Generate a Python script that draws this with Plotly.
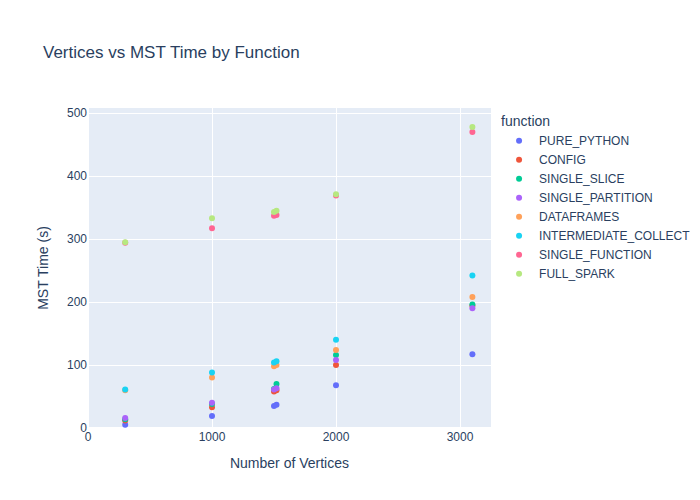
import pandas as pd
import plotly.express as px

functions = ["PURE_PYTHON", "CONFIG", "SINGLE_SLICE", "SINGLE_PARTITION",
             "DATAFRAMES", "INTERMEDIATE_COLLECT", "SINGLE_FUNCTION", "FULL_SPARK"]

vertices = [300, 1000, 1500, 1520, 2000, 3100]

pure_python = [5, 19, 35, 37, 68, 117]
config = [12, 33, 58, 60, 100, 194]
single_slice = [14, 38, 62, 70, 116, 196]
single_partition = [16, 40, 61, 63, 108, 190]
dataframes = [60, 80, 98, 100, 124, 208]
intermediate_collect = [61, 88, 104, 106, 140, 242]
single_function = [294, 317, 337, 338, 369, 470]
full_spark = [295, 333, 343, 345, 371, 478]

series = [pure_python, config, single_slice, single_partition,
          dataframes, intermediate_collect, single_function, full_spark]

rows = []
for name, vals in zip(functions, series):
    for v, t in zip(vertices, vals):
        rows.append({"vertices": v, "mst_time": t, "function": name})
df = pd.DataFrame(rows)

fig = px.scatter(df, x="vertices", y="mst_time", color="function",
                 title="Vertices vs MST Time by Function",
                 labels={"vertices": "Number of Vertices", "mst_time": "MST Time (s)"})
fig.update_layout(width=700, height=500, font_family="Liberation Sans, Arial")
fig.update_xaxes(range=[0, 3250])
fig.update_yaxes(range=[0, 508])
fig.write_html("out.html")
